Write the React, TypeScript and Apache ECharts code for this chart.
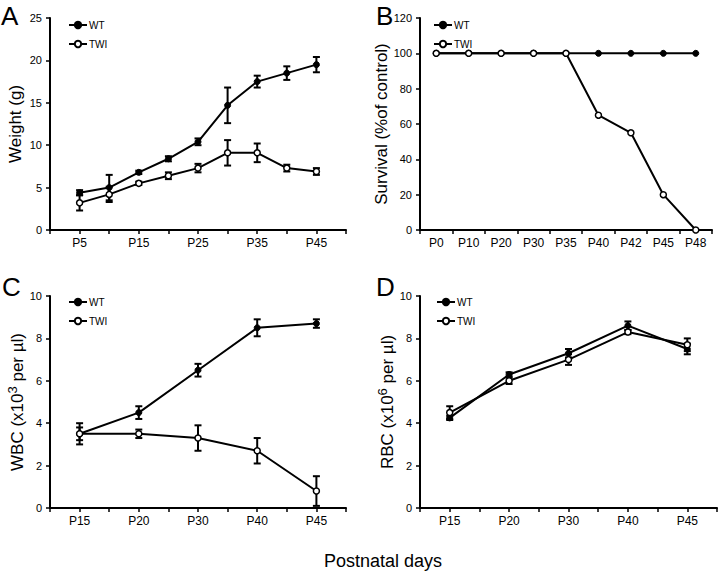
import React, { useEffect, useRef } from "react";
import * as echarts from "echarts";

// ---------- Data ----------
// Panel A: body weight (g)
const weightDays = [5, 10, 15, 20, 25, 30, 35, 40, 45];
const weightWT = [4.4, 5.0, 6.8, 8.4, 10.4, 14.7, 17.5, 18.5, 19.5];
const weightWTErr = [0.3, 1.5, 0.2, 0.3, 0.4, 2.1, 0.7, 0.8, 0.9];
const weightTWI = [3.2, 4.2, 5.5, 6.4, 7.3, 9.1, 9.1, 7.3, 6.9];
const weightTWIErr = [0.9, 0.9, 0.2, 0.4, 0.5, 1.5, 1.1, 0.4, 0.4];

// Panel B: survival (% of control)
const survivalDays = ["P0", "P10", "P20", "P30", "P35", "P40", "P42", "P45", "P48"];
const survivalWT = [100, 100, 100, 100, 100, 100, 100, 100, 100];
const survivalTWI = [100, 100, 100, 100, 100, 65, 55, 20, 0];

// Panels C, D: blood counts
const bloodDays = ["P15", "P20", "P30", "P40", "P45"];
const wbcWT = [3.5, 4.5, 6.5, 8.5, 8.7];
const wbcWTErr = [0.5, 0.3, 0.3, 0.4, 0.2];
const wbcTWI = [3.5, 3.5, 3.3, 2.7, 0.8];
const wbcTWIErr = [0.3, 0.2, 0.6, 0.6, 0.7];
const rbcWT = [4.25, 6.3, 7.3, 8.6, 7.5];
const rbcWTErr = [0.1, 0.1, 0.2, 0.2, 0.25];
const rbcTWI = [4.5, 6.0, 7.0, 8.3, 7.7];
const rbcTWIErr = [0.3, 0.15, 0.25, 0.1, 0.3];

const FONT = '"Liberation Sans", Arial, sans-serif';

export default function App() {
  const ref = useRef<HTMLDivElement>(null);

  useEffect(() => {
    if (!ref.current) return;
    const chart = echarts.init(ref.current, null, { renderer: "svg" });

    const bloodX = bloodDays.map((_, i) => 2 * i + 1);

    const pairs = (xs: number[], ys: number[]) => xs.map((x, i) => [x, ys[i]]);
    const errs = (xs: number[], ys: number[], es: number[]) =>
      xs.map((x, i) => [x, ys[i] - es[i], ys[i] + es[i]]);

    const renderErr = (params: any, api: any) => {
      const x = api.value(0);
      const lo = api.coord([x, api.value(1)]);
      const hi = api.coord([x, api.value(2)]);
      const cap = 3.5;
      const style = { stroke: "#000", lineWidth: 2 };
      return {
        type: "group",
        children: [
          { type: "line", shape: { x1: lo[0], y1: lo[1], x2: hi[0], y2: hi[1] }, style },
          { type: "line", shape: { x1: lo[0] - cap, y1: lo[1], x2: lo[0] + cap, y2: lo[1] }, style },
          { type: "line", shape: { x1: hi[0] - cap, y1: hi[1], x2: hi[0] + cap, y2: hi[1] }, style },
        ],
      };
    };

    const axisLine = { show: true, lineStyle: { color: "#000", width: 2 } };
    const axisTick = { show: true, length: 4, lineStyle: { color: "#000", width: 1.5 } };
    const xLabel = { color: "#000", fontSize: 12, fontFamily: FONT, margin: 7 };
    const yLabel = { color: "#000", fontSize: 11, fontFamily: FONT, margin: 8 };
    const nameStyle = { color: "#000", fontSize: 17, fontFamily: FONT };

    const grids = [
      { left: 50, top: 18, width: 296, height: 212 },
      { left: 420, top: 18, width: 292, height: 212 },
      { left: 50, top: 296, width: 296, height: 212 },
      { left: 420, top: 296, width: 297, height: 212 },
    ];

    const bloodFormatter = (v: number) =>
      v % 2 === 1 ? bloodDays[(v - 1) / 2] : "";

    const xAxis: any[] = [
      {
        gridIndex: 0, type: "value", min: 0, max: 50, interval: 5,
        axisLine, axisTick, splitLine: { show: false },
        axisLabel: { ...xLabel, formatter: (v: number) => (v % 10 === 5 ? "P" + v : "") },
      },
      {
        gridIndex: 1, type: "category", data: survivalDays, boundaryGap: true,
        axisLine, axisTick: { ...axisTick, alignWithLabel: false },
        axisLabel: { ...xLabel, interval: 0 },
      },
      {
        gridIndex: 2, type: "value", min: 0, max: 10, interval: 1,
        axisLine, axisTick, splitLine: { show: false },
        axisLabel: { ...xLabel, formatter: bloodFormatter },
      },
      {
        gridIndex: 3, type: "value", min: 0, max: 10, interval: 1,
        axisLine, axisTick, splitLine: { show: false },
        axisLabel: { ...xLabel, formatter: bloodFormatter },
      },
    ];

    const supRich = {
      n: { fontSize: 17, fontFamily: FONT, color: "#000", lineHeight: 22 },
      s: { fontSize: 13, fontFamily: FONT, color: "#000", verticalAlign: "top", lineHeight: 22, padding: [0, 0, 6, 0] },
    };

    const yAxis: any[] = [
      {
        gridIndex: 0, type: "value", min: 0, max: 25, interval: 5,
        axisLine, axisTick, splitLine: { show: false }, axisLabel: yLabel,
        name: "Weight (g)", nameLocation: "middle", nameGap: 26, nameTextStyle: nameStyle,
      },
      {
        gridIndex: 1, type: "value", min: 0, max: 120, interval: 20,
        axisLine, axisTick, splitLine: { show: false }, axisLabel: yLabel,
        name: "Survival (%of control)", nameLocation: "middle", nameGap: 27, nameTextStyle: nameStyle,
      },
      {
        gridIndex: 2, type: "value", min: 0, max: 10, interval: 2,
        axisLine, axisTick, splitLine: { show: false }, axisLabel: yLabel,
        name: "{n|WBC (x10}{s|3}{n| per µl)}", nameLocation: "middle", nameGap: 22,
        nameTextStyle: { ...nameStyle, rich: supRich },
      },
      {
        gridIndex: 3, type: "value", min: 0, max: 10, interval: 2,
        axisLine, axisTick, splitLine: { show: false }, axisLabel: yLabel,
        name: "{n|RBC (x10}{s|6}{n| per µl)}", nameLocation: "middle", nameGap: 22,
        nameTextStyle: { ...nameStyle, rich: supRich },
      },
    ];

    const lineStyle = { color: "#000", width: 2 };
    const wtItem = { color: "#000", borderColor: "#000", borderWidth: 1 };
    const twiItem = { color: "#fff", borderColor: "#000", borderWidth: 1.5 };

    const lineSeries = (name: string, idx: number, data: any[], filled: boolean) => ({
      type: "line", name, xAxisIndex: idx, yAxisIndex: idx, data,
      symbol: "circle", symbolSize: 6, showSymbol: true,
      lineStyle, itemStyle: filled ? wtItem : twiItem, z: filled ? 3 : 4,
    });
    const errSeries = (idx: number, data: any[]) => ({
      type: "custom", name: "err" + idx, xAxisIndex: idx, yAxisIndex: idx,
      renderItem: renderErr, data, z: 2, silent: true,
    });

    const series: any[] = [
      errSeries(0, errs(weightDays, weightWT, weightWTErr)),
      errSeries(0, errs(weightDays, weightTWI, weightTWIErr)),
      lineSeries("WT", 0, pairs(weightDays, weightWT), true),
      lineSeries("TWI", 0, pairs(weightDays, weightTWI), false),

      lineSeries("WT", 1, survivalWT, true),
      lineSeries("TWI", 1, survivalTWI, false),

      errSeries(2, errs(bloodX, wbcWT, wbcWTErr)),
      errSeries(2, errs(bloodX, wbcTWI, wbcTWIErr)),
      lineSeries("WT", 2, pairs(bloodX, wbcWT), true),
      lineSeries("TWI", 2, pairs(bloodX, wbcTWI), false),

      errSeries(3, errs(bloodX, rbcWT, rbcWTErr)),
      errSeries(3, errs(bloodX, rbcTWI, rbcTWIErr)),
      lineSeries("WT", 3, pairs(bloodX, rbcWT), true),
      lineSeries("TWI", 3, pairs(bloodX, rbcTWI), false),
    ];

    const legendBase = {
      data: ["WT", "TWI"], orient: "vertical", itemWidth: 18, itemHeight: 8, itemGap: 9,
      padding: 0, selectedMode: false, inactiveColor: "#000", inactiveBorderColor: "#000",
      textStyle: { fontSize: 10, fontFamily: FONT, color: "#000", padding: [0, 0, 0, -3] },
    };
    const legend = [
      { ...legendBase, left: 68, top: 20 },
      { ...legendBase, left: 433, top: 20 },
      { ...legendBase, left: 68, top: 297 },
      { ...legendBase, left: 436, top: 297 },
    ];

    const letter = (t: string, x: number, y: number) => ({
      type: "text", x, y,
      style: { text: t, fontSize: 26, fontFamily: FONT, fill: "#000", verticalAlign: "top" },
    });

    chart.setOption({
      animation: false,
      backgroundColor: "#fff",
      grid: grids,
      xAxis, yAxis, series, legend,
      graphic: [
        letter("A", 1, 3),
        letter("B", 376, 3),
        letter("C", 2, 274),
        letter("D", 376, 274),
        {
          type: "text", x: 383, y: 561,
          style: { text: "Postnatal days", fontSize: 18, fontFamily: FONT, fill: "#000", align: "center", verticalAlign: "middle" },
        },
      ],
    });

    return () => chart.dispose();
  }, []);

  return (
    <div
      ref={ref}
      style={{ position: "fixed", left: 0, top: 0, width: 720, height: 574, background: "#fff" }}
    />
  );
}
